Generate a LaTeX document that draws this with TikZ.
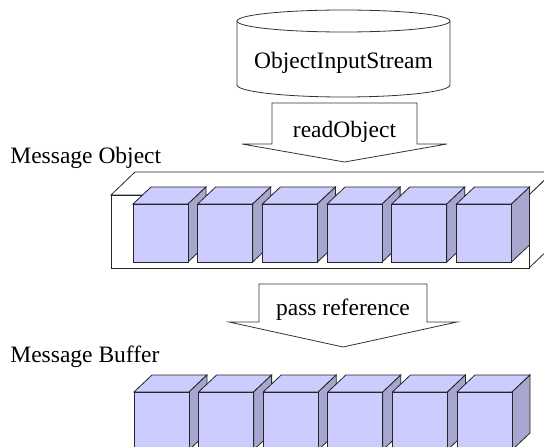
\documentclass[tikz,border=0pt]{standalone}
\usepackage{fontspec}
\setmainfont{Liberation Serif}
\definecolor{cubefront}{RGB}{204,204,255}
\definecolor{cubeside}{RGB}{166,166,206}
\begin{document}
\begin{tikzpicture}[x=1pt,y=-1pt,line width=0.8pt,line join=miter,
  lbl/.style={inner sep=0pt,font=\fontsize{23.5}{28}\selectfont},
  edge/.style={draw=black!85},
  bigarrow/.style={draw=black!80,fill=white}]
\useasboundingbox (0,0) rectangle (544,447);
\clip (0,0) rectangle (544,447);
% cylinder ObjectInputStream
\draw[fill=white,draw=black!80] (237,21) -- (237,85)
  .. controls (237,91.6) and (284.7,97) .. (343.5,97)
  .. controls (402.3,97) and (450,91.6) .. (450,85) -- (450,21);
\draw[fill=white,draw=black!80] (343.5,21) ellipse [x radius=106.5, y radius=11];
\node[lbl,anchor=base] (ois) at (343.5,68) {ObjectInputStream};
% readObject arrow
\draw[bigarrow] (272,103) -- (417,103) -- (417,144) -- (447,144) -- (344.5,162)
  -- (242,144) -- (272,144) -- cycle;
\node[lbl,anchor=base] (ro) at (344.5,137) {readObject};
% Message Object label
\node[lbl,anchor=base west] (mo) at (10,163) {Message Object};
% container box
\draw[edge,fill=white] (111,195) -- (135,172) -- (553,172) -- (529,195) -- cycle;
\draw[edge,fill=white] (529,195) -- (553,172) -- (553,245) -- (529,268) -- cycle;
\draw[edge,fill=white] (111,195) rectangle (529,268);
% cubes in container
\foreach \i in {0,...,5}{
  \pgfmathsetmacro{\xa}{133+64.7*\i}
  \draw[edge,fill=cubefront] (\xa,204) -- (\xa+18,187) -- (\xa+73,187) -- (\xa+55,204) -- cycle;
  \draw[edge,fill=cubeside] (\xa+55,204) -- (\xa+73,187) -- (\xa+73,245) -- (\xa+55,262) -- cycle;
  \draw[edge,fill=cubefront] (\xa,204) rectangle (\xa+55,262);
}
% pass reference arrow
\draw[bigarrow] (259,284) -- (427,284) -- (427,322) -- (457,322) -- (343,347)
  -- (229,322) -- (259,322) -- cycle;
\node[lbl,anchor=base] (pr) at (343,315) {pass reference};
% Message Buffer label
\node[lbl,anchor=base west] (mbl) at (10,362) {Message Buffer};
% buffer cubes
\foreach \i in {0,...,5}{
  \pgfmathsetmacro{\xa}{134+64.6*\i}
  \draw[edge,fill=cubefront] (\xa,392) -- (\xa+18,375) -- (\xa+73,375) -- (\xa+55,392) -- cycle;
  \draw[edge,fill=cubeside] (\xa+55,392) -- (\xa+73,375) -- (\xa+73,433) -- (\xa+55,450) -- cycle;
  \draw[edge,fill=cubefront] (\xa,392) rectangle (\xa+55,450);
}
\end{tikzpicture}
\end{document}
